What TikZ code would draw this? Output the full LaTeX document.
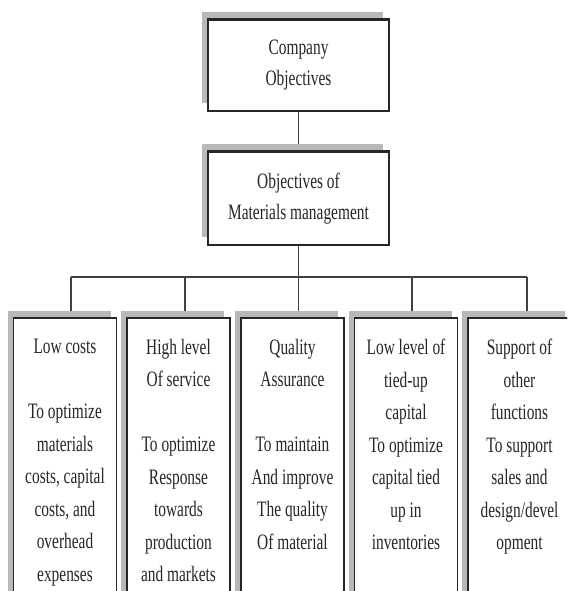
\documentclass[tikz,border=0pt]{standalone}
\usepackage{fontspec}
\setmainfont{Liberation Serif}[FakeStretch=0.70]
\usetikzlibrary{shadows,calc,backgrounds}
\begin{document}
\begin{tikzpicture}[x=1pt,y=-1pt,
  boxstyle/.style={draw=black!85, line width=1.3pt, fill=white, inner sep=0pt,
    drop shadow={shadow xshift=-6pt, shadow yshift=8pt, fill=black!28, opacity=1}},
  topbox/.style={boxstyle, minimum width=181pt, minimum height=91pt, align=center,
    font=\fontsize{22}{31}\selectfont, text=black!85},
  lowbox/.style={boxstyle, minimum width=103pt, minimum height=320pt, anchor=north},
  lowtext/.style={anchor=north, inner sep=0pt, align=center,
    font=\fontsize{22}{32.5}\selectfont, text=black!85},
  link/.style={draw=black!75, line width=1.4pt},
  topedge/.style={line width=2.8pt, black!85}
]
\useasboundingbox (0,0) rectangle (567,591);
\clip (0,0) rectangle (567,591);

% boxes
\node[topbox] (co) at (298.5,65.5) {Company\\Objectives};
\node[topbox, minimum height=93pt] (mm) at (298.5,198.5) {Objectives of\\Materials management};

\node[lowbox] (b1) at (65,318) {};
\node[lowbox] (b2) at (178.5,318) {};
\node[lowbox] (b3) at (292.5,318) {};
\node[lowbox] (b4) at (406,318) {};
\node[lowbox] (b5) at (519.5,318) {};

\foreach \b in {co,mm,b1,b2,b3,b4,b5}{
  \draw[topedge] (\b.north west) -- (\b.north east);
}

% texts
\node[lowtext] (t1) at (65,339) {Low costs\\[32.5pt]To optimize\\materials\\costs, capital\\costs, and\\overhead\\expenses};
\node[lowtext] (t2) at (178.5,339) {High level\\Of service\\[32.5pt]To optimize\\Response\\towards\\production\\and markets};
\node[lowtext] (t3) at (292.5,339) {Quality\\Assurance\\[32.5pt]To maintain\\And improve\\The quality\\Of material};
\node[lowtext] (t4) at (406,339) {Low level of\\tied-up\\capital\\To optimize\\capital tied\\up in\\inventories};
\node[lowtext] (t5) at (519.5,339) {Support of\\other\\functions\\To support\\sales and\\design/devel\\opment};

% connectors
\coordinate (bus1) at (71,277);
\coordinate (bus2) at (185,277);
\coordinate (bus4) at (412,277);
\coordinate (bus5) at (527,277);
\begin{scope}[on background layer]
  \fill[white] (0,0) rectangle (567,591);
  \draw[link] (co.south) -- (mm.north);
  \draw[link] (mm.south) -- (mm.south |- b3.north);
  \draw[link] (bus1) -- (bus5);
  \draw[link] (bus1) -- (bus1 |- b1.north);
  \draw[link] (bus2) -- (bus2 |- b2.north);
  \draw[link] (bus4) -- (bus4 |- b4.north);
  \draw[link] (bus5) -- (bus5 |- b5.north);
\end{scope}
\end{tikzpicture}
\end{document}
